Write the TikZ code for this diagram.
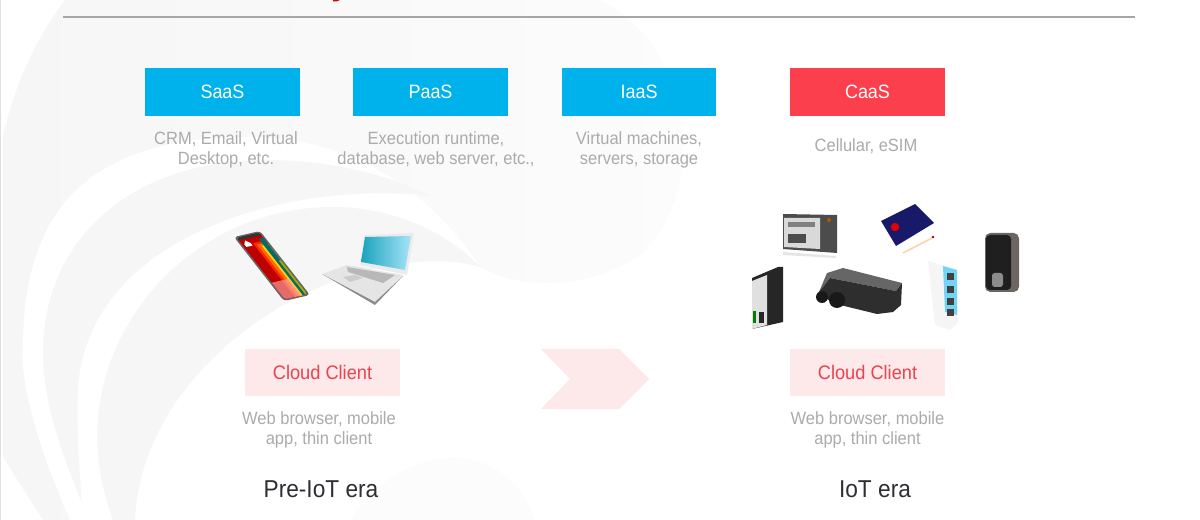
\documentclass[tikz,border=0pt]{standalone}
\usepackage{fontspec}
\setmainfont[FakeStretch=0.93]{Liberation Sans}
\definecolor{cy}{HTML}{00B2EC}
\definecolor{rd}{HTML}{FB3F4C}
\definecolor{pk}{HTML}{FDE9EA}
\definecolor{swirl}{HTML}{F6F6F7}
\definecolor{swirlb}{HTML}{FCFCFC}
\definecolor{gt}{HTML}{ABABAB}
\definecolor{rt}{HTML}{E8434F}
\definecolor{dk}{HTML}{2E2E33}
\definecolor{trk}{HTML}{6B6662}
\newcommand\phstripe[5]{\fill[#1] (#2,#3) -- (#4,#3) -- (#4,#5) -- (#2,#5) -- cycle;}
\tikzset{
 x=0.75pt,y=-0.75pt,
 hdr/.style={fill=cy,text=white,minimum width=116.5pt,minimum height=35.5pt,inner sep=0pt,font=\fontsize{14.5}{17}\selectfont},
 hdrred/.style={hdr,fill=rd},
 client/.style={fill=pk,text=rt,minimum width=116.5pt,minimum height=35.5pt,inner sep=0pt,font=\fontsize{14.7}{17}\selectfont},
 desc/.style={text=gt,align=center,inner sep=0pt,font=\fontsize{13.3}{15}\selectfont},
 era/.style={text=dk,inner sep=0pt,font=\fontsize{18.3}{20}\selectfont},
}
\begin{document}
\begin{tikzpicture}
\useasboundingbox (0,0) rectangle (1200,520);
\fill[white] (0,0) rectangle (1200,520);
% background swirl: large pale sweep
\shade[left color=swirl,right color=swirlb] (65,0) .. controls (35,40) and (15,85) .. (3,135) -- (3,457) -- (43,520) -- (140,520) -- (480,267)
  .. controls (520,290) and (590,290) .. (640,255)
  .. controls (690,210) and (700,120) .. (650,40)
  .. controls (635,25) and (620,10) .. (600,0) -- cycle;
% white sweep
\fill[white] (70,520) .. controls (35,440) and (20,380) .. (23,347)
  .. controls (23,190) and (110,137) .. (250,137)
  .. controls (350,137) and (430,190) .. (480,267) -- (600,520) -- cycle;
% second crescent
\fill[swirl] (82,503) .. controls (60,450) and (43,400) .. (43,353)
  .. controls (43,240) and (130,160) .. (267,160)
  .. controls (330,160) and (390,175) .. (430,196)
  .. controls (300,180) and (90,230) .. (78,387)
  .. controls (76,430) and (80,480) .. (82,503) -- cycle;
% third crescent
\fill[swirl] (113,520) .. controls (95,470) and (95,430) .. (100,403)
  .. controls (115,300) and (210,207) .. (333,207)
  .. controls (390,207) and (445,230) .. (480,267)
  .. controls (440,255) and (380,262) .. (320,287)
  .. controls (230,325) and (140,410) .. (135,520) -- cycle;
% bottom blob
\fill[swirlb] (350,520) .. controls (375,480) and (420,455) .. (460,458)
  .. controls (500,462) and (525,490) .. (535,520) -- cycle;
\draw[black!12,line width=1.1pt] (0.7,0) -- (0.7,520);
% rule
\coordinate (ruleL) at (63,17);
\coordinate (ruleR) at (1135,17);
\draw[color=black!35,line width=0.9pt] (ruleL) -- (ruleR);
% cut-off title descender
\fill[red!85!black] (333,0) -- (340,0) .. controls (338,1.5) and (335,2) .. (333,1.5) -- cycle;
% header boxes
\node[hdr] (saas) at (222.5,92) {SaaS};
\node[hdr] (paas) at (430.5,92) {PaaS};
\node[hdr,minimum width=115.5pt] (iaas) at (639,92) {IaaS};
\node[hdrred] (caas) at (867.5,92) {CaaS};
\node[desc] (d1) at (226,149.5) {CRM, Email, Virtual\\Desktop, etc.};
\node[desc] (d2) at (436,149.5) {Execution runtime,\\database, web server, etc.,};
\node[desc] (d3) at (639,149.5) {Virtual machines,\\servers, storage};
\node[desc] (d4) at (866,146.5) {Cellular, eSIM};
% phone (unit square mapped on the tilted screen)
\begin{scope}[shift={(234,237)},x={(19.5pt,4.5pt)},y={(37.5pt,-48pt)}]
 \fill[black!60,rounded corners=2.5] (0,0) -- (1,0) -- (1,1) -- (0,1) -- cycle;
 \begin{scope}
 \clip[rounded corners=2] (.07,.02) -- (.93,.02) -- (.93,.98) -- (.07,.98) -- cycle;
 \phstripe{red!75!black}{0}{0}{1}{1}
 \phstripe{red!70!orange}{.46}{.14}{1}{1}
 \phstripe{orange!85!red}{.56}{.17}{1}{1}
 \phstripe{yellow!70!orange}{.68}{.2}{1}{1}
 \phstripe{teal!85!black}{.76}{.1}{1}{1}
 \phstripe{olive!70!yellow}{.86}{.45}{1}{1}
 \phstripe{white!70!red,opacity=.6}{.07}{.72}{.72}{1}
 \phstripe{black!80}{0}{0}{1}{.06}
 \fill[white] (.15,.13) -- (.27,.08) -- (.39,.13) -- (.39,.17) -- (.15,.17) -- cycle;
 \end{scope}
\end{scope}
% laptop
\fill[black!8] (364,235) -- (414,233) -- (407,275) -- (360,265) -- cycle;
\shade[left color=cy!50!teal!90,right color=cy!35!white] (365,237) -- (411,236) -- (405,270) -- (361,262) -- cycle;
\fill[black!10] (347,265) -- (403,275) -- (375,303) -- (322,274) -- cycle;
\fill[black!45] (322,274) -- (375,305) -- (403,276) -- (375,302) -- cycle;
\fill[black!28] (347,267) -- (395,275) -- (383,283) -- (348,272) -- cycle;
\fill[black!20] (343,277) -- (355,275) -- (363,278) -- (350,282) -- cycle;
% devices
\fill[black!70] (783,214) -- (837,215) -- (837,253) -- (783,249) -- cycle;
\fill[black!15] (784,218) -- (820,218) -- (820,249) -- (784,247) -- cycle;
\fill[black!70] (788,234) rectangle (806,243);
\fill[black!50] (788,222) rectangle (815,227);
\fill[orange!70!black] (829,220) circle (2);
\fill[black!10] (783,252) -- (836,256) -- (836,258) -- (783,255) -- cycle;
\fill[blue!35!black!90] (881,221) -- (915,204) -- (934,223) -- (896,246) -- cycle;
\fill[red!90!black] (895,227) circle (4.2);
\draw[orange!35!white,line width=1.2pt] (903,253) -- (932,238);
\fill[red!60!black] (933,237) circle (1.4);
\fill[trk,rounded corners=4] (985,233) rectangle (1019,292);
\fill[black!88,rounded corners=3] (986,235) rectangle (1011,290);
\fill[black!45,rounded corners=2] (992,273) rectangle (1003,287);
\fill[black!85] (752,278) -- (778,267) -- (783,267) -- (783,322) -- (752,329) -- cycle;
\fill[black!12] (752,281) -- (767,275) -- (767,325) -- (752,329) -- cycle;
\fill[green!50!black] (753,311) rectangle (756,323);
\fill[black!85] (759,312) rectangle (764,323);
\fill[black!60] (819,292) -- (827,273) -- (843,268) -- (902,283) -- (896,291) -- (830,278) -- cycle;
\fill[black!82] (819,292) -- (830,278) -- (896,291) -- (902,283) -- (901,305) -- (893,312) -- (877,314) -- (832,303) -- cycle;
\fill[black!90] (822,297) circle (6);
\fill[black!90] (837,300) circle (8);
\fill[black!4] (928,261) -- (957,270) -- (958,322) -- (950,330) -- (935,325) -- cycle;
\fill[cy!55] (943,266) -- (957,270) -- (957,315) -- (945,312) -- cycle;
\foreach \yy in {273,286,298,309}{\fill[black!75] (947,\yy) rectangle (954,\yy+7);}
% clients
\node[client] (c1) at (322.5,372.5) {Cloud Client};
\node[client] (c2) at (867.5,372.5) {Cloud Client};
\node[desc] (e1) at (319,429.5) {Web browser, mobile\\app, thin client};
\node[desc] (e2) at (867.5,429.5) {Web browser, mobile\\app, thin client};
\node[era] (p1) at (321,489) {Pre-IoT era};
\node[era] (p2) at (875,489) {IoT era};
% chevron
\fill[pk] (541,349) -- (619,349) -- (649,379) -- (619,409) -- (541,409) -- (570,379) -- cycle;
\end{tikzpicture}
\end{document}
